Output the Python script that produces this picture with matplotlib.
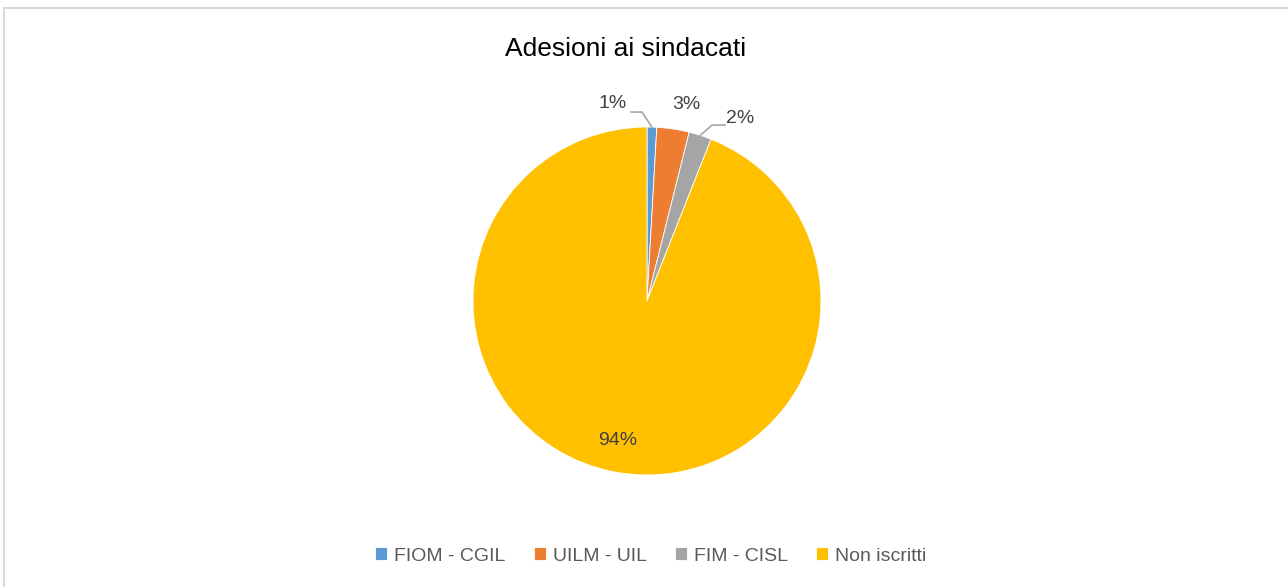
import numpy as np
import matplotlib
matplotlib.use('Agg')
import matplotlib.pyplot as plt
from matplotlib.patches import Rectangle

plt.rcParams['font.family'] = ['Liberation Sans', 'DejaVu Sans']

# data
labels = ['FIOM - CGIL', 'UILM - UIL', 'FIM - CISL', 'Non iscritti']
values = [0.9, 3.0, 2.1, 94.0]
pct_text = ['1%', '3%', '2%', '94%']
colors = ['#5B9BD5', '#ED7D31', '#A5A5A5', '#FFC000']

W, H = 1288, 587
fig = plt.figure(figsize=(W / 100, H / 100), dpi=100)

# outer chart border (light grey), running off the right and bottom edges
fig.patches.append(Rectangle((4 / W, -0.1), 1.2, 1 - 8 / H + 0.1, transform=fig.transFigure,
                             fill=False, edgecolor='#D9D9D9', linewidth=1.5))

# axes placed so the pie has radius 174 px centred at (647, 301)
cx, cy, r = 647, 301, 174
ax = fig.add_axes([(cx - r) / W, (H - cy - r) / H, 2 * r / W, 2 * r / H])
wedges, _ = ax.pie(values, colors=colors, startangle=90, counterclock=False, radius=1,
                   wedgeprops=dict(edgecolor='white', linewidth=0.6))
ax.set_xlim(-1, 1)
ax.set_ylim(-1, 1)
ax.set_aspect('equal')
ax.axis('off')

# label positions (data units, pie radius = 1)
label_pos = [(-0.20, 1.135), (0.225, 1.13), (0.535, 1.05), (-0.17, -0.80)]
txt_col = '#404040'
for w, t, (lx, ly) in zip(wedges, pct_text, label_pos):
    ax.text(lx, ly, t, ha='center', va='center', fontsize=14, color=txt_col, clip_on=False)

# leader lines for the two thin slices
line_col = '#A6A6A6'
# FIOM - CGIL
th = np.deg2rad((wedges[0].theta1 + wedges[0].theta2) / 2)
ax.plot([-0.092, -0.029, np.cos(th)], [1.086, 1.086, np.sin(th)], color=line_col, lw=1.2, clip_on=False)
# FIM - CISL
th = np.deg2rad((wedges[2].theta1 + wedges[2].theta2) / 2)
ax.plot([np.cos(th), 0.374, 0.448], [np.sin(th), 1.011, 1.011], color=line_col, lw=1.2, clip_on=False)

fig.text(626 / W, 1 - 49 / H, 'Adesioni ai sindacati', ha='center', va='center', fontsize=19, color='black')

leg = fig.legend(wedges, labels, loc='center', bbox_to_anchor=(651 / W, 1 - 556 / H), ncol=4,
                 frameon=False, fontsize=14, handlelength=0.62, handleheight=0.62,
                 handletextpad=0.36, columnspacing=1.45)
for t in leg.get_texts():
    t.set_color('#595959')

fig.savefig('out.png', dpi=100)
